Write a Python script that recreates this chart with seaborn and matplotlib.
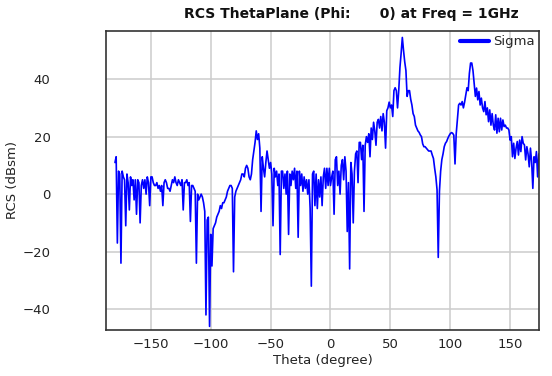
import numpy as np
import pandas as pd
import matplotlib
matplotlib.use("Agg")
import matplotlib.pyplot as plt
import seaborn as sns

# RCS theta cut, phi = 0, 1 GHz (1 deg steps)
theta_start = -180
sigma_db = [
    11, 13, -17, 8, 7, -24, 8, 6, 5, -11,          # -180..-171
    7, 4, -5.5, 6, 3, 5, -2, 5, -7, 5,             # -170..-161
    4, -10, 3, 5, 2, 5, 0, 6, 4, -4,               # -160..-151
    6, 6, 4, 3, 3, 4, 2, 3, 1, 3,                  # -150..-141
    -4, 4, 5, 4, 2, 2, 1, 3, 5, 4,                 # -140..-131
    6, 4, 3, 5, 4, 3, 5, -5.5, 4, 4,               # -130..-121
    5, 3, 4, -9.5, 3, 3, 2, 1, -24, 0,             # -120..-111
    -2, -1, 0, -1, -3, -6, -42, -9, -8, -46,       # -110..-101
    -14, -25, -12, -11, -10, -8, -7, -6, -4, -5,   # -100..-91
    -3, -3, -2, -1, 1, 2, 3, 3, 2, -27,            # -90..-81
    -1, 1, 2, 3, 4, 5, 7, 7, 6, 9,                 # -80..-71
    10, 9, 6, 5, 7, 12, 15, 18, 22, 19,            # -70..-61
    21, 16, -6, 13, 9, 6, 11, 15, 12, 9,           # -60..-51
    11, 7, -11, 9, 6, 8, 3, 7, -21, 8,             # -50..-41
    8, 2, 7, 0, 8, -14, 7, 3, 8, 5,                # -40..-31
    9, 2, 8, -15, 8, 3, 7, 1, 6, 2,                # -30..-21
    5, 0, 5, -5, -32, 7, 8, -4, 7, -5,             # -20..-11
    5, -1, 6, -4, 6, 9, 2, 9, 3, 9,                # -10..-1
    3, 6, 8, -7, 12, 13, 3, 8, 0, 10,              # 0..9
    12, 5, 13, 8, -13, 4, -26, 11, 7, -10,         # 10..19
    8, 14, 15, 4, 18, 18, 12, 17, -6, 17,          # 20..29
    20, 18, 21, 13, 23, 19, 25, 22, 17, 25,        # 30..39
    26, 23, 27, 22, 28, 25, 16, 29, 30, 32,        # 40..49
    30, 31, 27, 36, 37, 36, 30, 36, 44, 49,        # 50..59
    54.5, 50, 46, 43, 34, 36, 36, 33, 31, 28,      # 60..69
    27, 24, 23, 22, 21.5, 20.6, 20, 17.5, 16.5, 16.5,  # 70..79
    16, 15.5, 15, 15, 15, 13.6, 12.4, 9, 6, 1.5,   # 80..89
    -22, 1, 8, 12, 14, 16.5, 17.7, 18.3, 19.4, 20.3,   # 90..99
    21, 21.4, 21.2, 20.5, 10.5, 21, 26, 31, 31.6, 31,  # 100..109
    32.2, 30, 32, 34.5, 37, 36, 42, 45.6, 45.6, 43,    # 110..119
    38.6, 34, 36.9, 32.8, 35.7, 31, 33.4, 30, 28.7, 32.2,  # 120..129
    27.6, 30, 25.2, 29.3, 24, 28, 24, 22.3, 27.6, 21.2,    # 130..139
    26.4, 21.7, 26.4, 22.3, 25.8, 23.5, 24, 23, 23, 22.3,  # 140..149
    18.8, 20, 13, 17.7, 12.4, 16, 18.3, 13.6, 18.8, 14.8,  # 150..159
    20, 17.7, 17.1, 11.9, 16.5, 14, 9.5, 16, 11.3, 2,      # 160..169
    13, 11, 14.8, 6, 14,                                   # 170..174
]
theta_deg = np.arange(theta_start, theta_start + len(sigma_db))
x_ticks = [-150, -100, -50, 0, 50, 100, 150]
y_ticks = [-40, -20, 0, 20, 40]

df = pd.DataFrame({"theta": theta_deg, "sigma": sigma_db})

sns.set_style("white")
plt.rcParams["font.family"] = ["DejaVu Sans"]

fig = plt.figure(figsize=(5.52, 3.76), dpi=100)
ax = fig.add_axes([0.192, 0.122, 0.785, 0.796])

sns.lineplot(data=df, x="theta", y="sigma", ax=ax, color="#0000ff",
             linewidth=1.2, label="Sigma")

ax.set_xlim(-187.5, 174.4)
ax.set_ylim(-47.3, 56.8)
ax.set_xticks(x_ticks)
ax.set_yticks(y_ticks)
ax.grid(True, color="#cccccc", linewidth=1.1)
ax.set_axisbelow(True)
for s in ax.spines.values():
    s.set_color("#333333")
    s.set_linewidth(1.2)
ax.tick_params(axis="both", length=0, labelsize=9.5, colors="#222222")
ax.tick_params(axis="y", pad=40)
ax.tick_params(axis="x", pad=6)

ax.set_xlabel("Theta (degree)", fontsize=9.5, color="#222222", labelpad=2)
ax.set_ylabel("RCS (dBsm)", fontsize=9.5, color="#222222")
ax.yaxis.set_label_coords(-0.2, 0.5)

fig.text(0.637, 0.962, "RCS ThetaPlane (Phi:      0) at Freq = 1GHz",
         ha="center", va="center", fontsize=10, fontweight="bold", color="#111111")

leg = ax.legend(loc="upper right", bbox_to_anchor=(0.99, 0.985), frameon=False,
                fontsize=9.5, handlelength=2.2, handletextpad=0.3,
                borderpad=0, borderaxespad=0)
for h in leg.get_lines():
    h.set_linewidth(3)

fig.savefig("out.png", dpi=100)
